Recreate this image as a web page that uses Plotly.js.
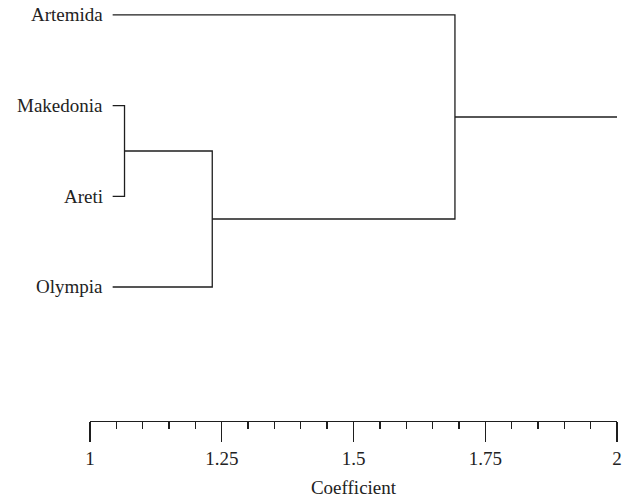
<!DOCTYPE html>
<html>
<head>
<meta charset="utf-8">
<script src="https://cdn.plot.ly/plotly-3.0.1.min.js"></script>
<style>html,body{margin:0;padding:0;background:#fff;}#chart{width:624px;height:502px;}</style>
</head>
<body>
<div id="chart"></div>
<script>
// Leaves (top to bottom) and their vertical positions
const leaves = ['Artemida', 'Makedonia', 'Areti', 'Olympia'];
const leafPos = [4, 3, 2, 1];
const leafStart = 1.043;
// Linkage: child A, child B, merge coefficient
const linkA = ['Makedonia', 'N1', 'N2'];
const linkB = ['Areti', 'Olympia', 'Artemida'];
const linkName = ['N1', 'N2', 'N3'];
const linkHeight = [1.0655, 1.232, 1.6925];
const rootEnd = 2.0;
// Axis ticks
const xTickVals = [1, 1.25, 1.5, 1.75, 2];
const xTickText = ['1', '1.25', '1.5', '1.75', '2'];

const yOf = {}, xOf = {};
leaves.forEach((n, i) => { yOf[n] = leafPos[i]; xOf[n] = leafStart; });
const xs = [], ys = [];
for (let i = 0; i < linkA.length; i++) {
  const a = linkA[i], b = linkB[i], h = linkHeight[i];
  xs.push(xOf[a], h, h, xOf[b], null);
  ys.push(yOf[a], yOf[a], yOf[b], yOf[b], null);
  yOf[linkName[i]] = (yOf[a] + yOf[b]) / 2;
  xOf[linkName[i]] = h;
}
const root = linkName[linkName.length - 1];
xs.push(xOf[root], rootEnd);
ys.push(yOf[root], yOf[root]);

const lineColor = '#1e1e1e';
const font = {family: '"Liberation Serif", "Times New Roman", serif', size: 19, color: '#222'};

const trace = {
  x: xs, y: ys, type: 'scatter', mode: 'lines',
  line: {color: lineColor, width: 1.3},
  hoverinfo: 'skip', showlegend: false, connectgaps: false
};

const annotations = leaves.map((name, i) => ({
  x: leafStart, y: leafPos[i], xref: 'x', yref: 'y',
  text: name, showarrow: false, xanchor: 'right', yanchor: 'middle',
  xshift: -8, font: font
}));

const layout = {
  width: 624, height: 502,
  margin: {l: 90, r: 7, t: 5, b: 81},
  paper_bgcolor: '#fff', plot_bgcolor: '#fff',
  font: font,
  showlegend: false,
  annotations: annotations,
  xaxis: {
    range: [1, 2],
    showgrid: false, zeroline: false,
    showline: true, linecolor: lineColor, linewidth: 1.3,
    ticks: 'outside', ticklen: 20, tickwidth: 1.3, tickcolor: lineColor,
    tickmode: 'array', tickvals: xTickVals, ticktext: xTickText,
    minor: {dtick: 0.05, tick0: 1, ticks: 'outside', ticklen: 7, tickwidth: 1.3, tickcolor: lineColor, showgrid: false},
    tickfont: font,
    title: {text: 'Coefficient', font: font, standoff: 12}
  },
  yaxis: {
    range: [-0.478, 4.11],
    showgrid: false, zeroline: false, showline: false,
    ticks: '', showticklabels: false
  }
};

Plotly.newPlot('chart', [trace], layout, {displayModeBar: false, staticPlot: true});
</script>
</body>
</html>
